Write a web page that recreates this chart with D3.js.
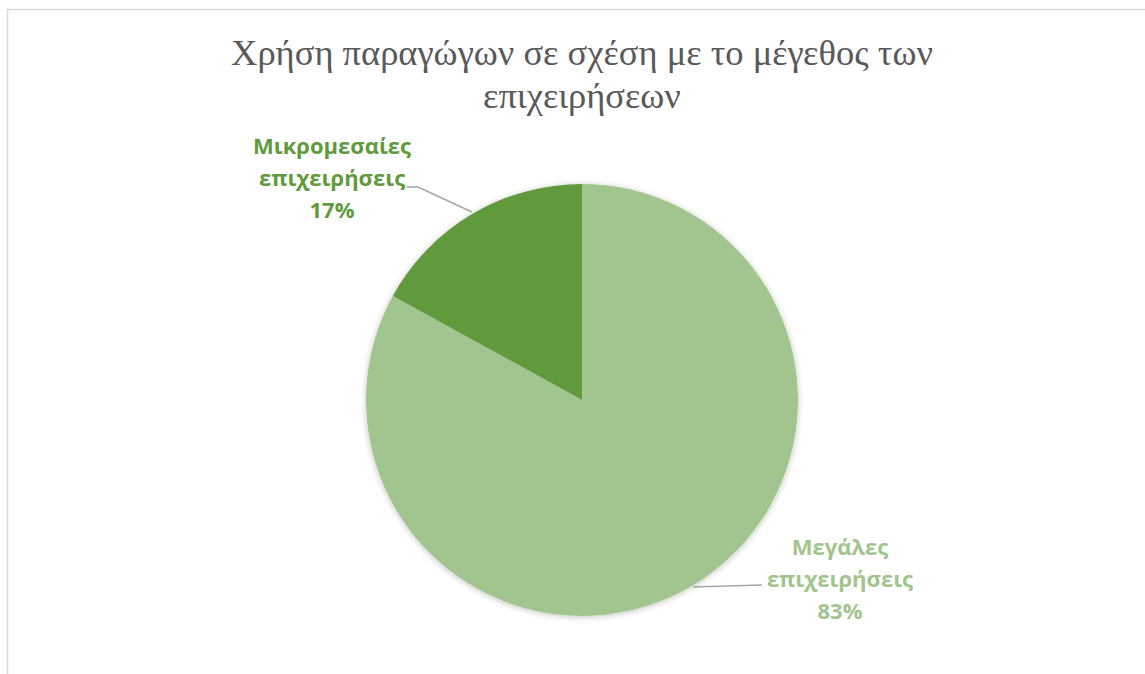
<!DOCTYPE html>
<html>
<head>
<meta charset="utf-8">
<script src="https://cdn.jsdelivr.net/npm/d3@7"></script>
<style>
  body { margin: 0; background: #fff; }
  svg { display: block; }
</style>
</head>
<body>
<div id="chart"></div>
<script>
const categories = ["Μεγάλες επιχειρήσεις", "Μικρομεσαίες επιχειρήσεις"];
const labelLines = [["Μεγάλες", "επιχειρήσεις"], ["Μικρομεσαίες", "επιχειρήσεις"]];
const values = [83, 17];
const colors = ["#a2c48e", "#619a3d"];
const titleLines = ["Χρήση παραγώγων σε σχέση με το μέγεθος των", "επιχειρήσεων"];

const width = 1145, height = 674;
const cx = 582, cy = 400, radius = 216;

const svg = d3.select("#chart").append("svg")
  .attr("width", width)
  .attr("height", height);

// chart frame
svg.append("rect")
  .attr("x", 7.5).attr("y", 9.5)
  .attr("width", width).attr("height", height)
  .attr("fill", "none")
  .attr("stroke", "#d9d9d9")
  .attr("stroke-width", 1.5);

// title
svg.append("text")
  .attr("text-anchor", "middle")
  .attr("font-family", "'Liberation Serif', 'Times New Roman', serif")
  .attr("font-size", 36.5)
  .attr("fill", "#595959")
  .selectAll("tspan")
  .data(titleLines)
  .enter().append("tspan")
  .attr("x", cx)
  .attr("y", (d, i) => 65 + i * 43)
  .text(d => d);

const defs = svg.append("defs");
const shadow = defs.append("filter").attr("id", "shadow")
  .attr("x", "-20%").attr("y", "-20%").attr("width", "140%").attr("height", "140%");
shadow.append("feGaussianBlur").attr("in", "SourceAlpha").attr("stdDeviation", 3);
shadow.append("feOffset").attr("dx", 0).attr("dy", 1).attr("result", "blur");
shadow.append("feComponentTransfer").append("feFuncA").attr("type", "linear").attr("slope", 0.25);
const merge = shadow.append("feMerge");
merge.append("feMergeNode");
merge.append("feMergeNode").attr("in", "SourceGraphic");

// pie: first slice starts at 12 o'clock clockwise
const pie = d3.pie().sort(null).value(d => d);
const arcs = pie(values);
const arc = d3.arc().innerRadius(0).outerRadius(radius);

const g = svg.append("g").attr("transform", `translate(${cx},${cy})`);

g.append("circle").attr("r", radius).attr("fill", "#fff").attr("filter", "url(#shadow)");

g.selectAll("path.slice")
  .data(arcs)
  .enter().append("path")
  .attr("class", "slice")
  .attr("d", arc)
  .attr("fill", (d, i) => colors[i]);

// labels (positions relative to centre)
const labelPos = [
  { x: 258, y: 155, line: [[111, 187], [180, 185]] },
  { x: -250, y: -246, line: [[-110, -188], [-164, -213], [-175, -213]] }
];

const pct = d3.format(".0%");
const total = d3.sum(values);

arcs.forEach((a, i) => {
  const p = labelPos[i];
  g.append("polyline")
    .attr("points", p.line.map(q => q.join(",")).join(" "))
    .attr("fill", "none")
    .attr("stroke", "#a6a6a6")
    .attr("stroke-width", 1.5);

  const t = g.append("text")
    .attr("text-anchor", "middle")
    .attr("font-family", "'Open Sans', 'Liberation Sans', sans-serif")
    .attr("font-weight", "bold")
    .attr("font-size", 22)
    .attr("fill", colors[i]);
  const lines = labelLines[i].concat([pct(a.data / total)]);
  t.selectAll("tspan")
    .data(lines)
    .enter().append("tspan")
    .attr("x", p.x)
    .attr("y", (d, k) => p.y + k * 32)
    .text(d => d);
});
</script>
</body>
</html>
